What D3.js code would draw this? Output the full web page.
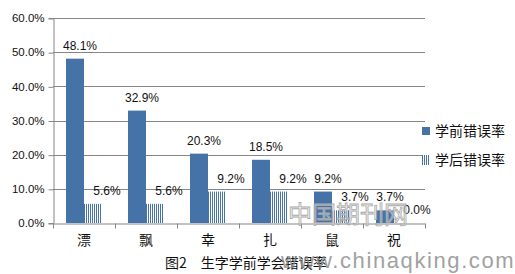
<!DOCTYPE html>
<html>
<head>
<meta charset="utf-8">
<script src="https://cdn.jsdelivr.net/npm/d3@7"></script>
<style>
  body { margin: 0; background: #fff; }
  svg { display: block; }
</style>
</head>
<body>
<svg id="chart" width="515" height="274"></svg>
<script>
// data
var categories = ['漂', '飘', '幸', '扎', '鼠', '祝'];
var seriesNames = ['学前错误率', '学后错误率'];
var before = [48.1, 32.9, 20.3, 18.5, 9.2, 3.7];
var after = [5.6, 5.6, 9.2, 9.2, 3.7, 0.0];
var yTicks = [0, 10, 20, 30, 40, 50, 60];
var title = '图2\u3000生字学前学会错误率';

var blue = '#4572a7',
  grid = '#868686',
  txt = '#111',
  latin = 'Liberation Sans, Arial, sans-serif',
  cjk = '"Noto Sans CJK SC", sans-serif';

var svg = d3.select('#chart');

// vertical stripe fill for the second series
var defs = svg.append('defs');
var pat = defs.append('pattern')
  .attr('id', 'stripes')
  .attr('patternUnits', 'userSpaceOnUse')
  .attr('width', 2).attr('height', 4);
pat.append('rect').attr('width', 2).attr('height', 4).attr('fill', '#fff');
pat.append('rect').attr('width', 1).attr('height', 4).attr('fill', blue);

var mLeft = 53, mRight = 425, mTop = 18, mBottom = 223;

var x0 = d3.scaleBand().domain(categories).range([mLeft, mRight]);
var x1 = d3.scaleBand().domain(seriesNames).range([0, 36]);
var y = d3.scaleLinear().domain([0, 60]).range([mBottom, mTop]);

// gridlines
svg.append('g')
  .selectAll('line')
  .data(yTicks.filter(function (d) { return d > 0; }))
  .enter().append('line')
  .attr('x1', mLeft).attr('x2', mRight)
  .attr('y1', function (d) { return Math.round(y(d)) + 0.5; })
  .attr('y2', function (d) { return Math.round(y(d)) + 0.5; })
  .attr('stroke', grid);

// y axis
var yAxis = d3.axisLeft(y)
  .tickValues(yTicks)
  .tickSize(5)
  .tickPadding(4)
  .tickFormat(function (d) { return d.toFixed(1) + '%'; });

var gy = svg.append('g')
  .attr('transform', 'translate(' + (mLeft + 0.5) + ',0)')
  .call(yAxis);
gy.select('.domain').attr('stroke', grid);
gy.selectAll('.tick line').attr('stroke', grid)
  .attr('transform', 'translate(0,0.5)');
gy.selectAll('text')
  .attr('font-family', latin)
  .attr('font-size', 11.5)
  .attr('fill', txt);

// bars
var groups = svg.append('g')
  .selectAll('g')
  .data(categories)
  .enter().append('g')
  .attr('transform', function (d) {
    return 'translate(' + Math.round(x0(d) + (x0.bandwidth() - 36) / 2) + ',0)';
  });

var values = [before, after];
var fills = [blue, 'url(#stripes)'];
var labelShift = [5, 14];

seriesNames.forEach(function (s, si) {
  groups.append('rect')
    .attr('x', function (d) { return Math.round(x1(s)); })
    .attr('width', x1.bandwidth())
    .attr('y', function (d, i) { return y(values[si][i]); })
    .attr('height', function (d, i) { return mBottom - y(values[si][i]); })
    .attr('fill', fills[si]);

  groups.append('text')
    .attr('x', function (d) { return x1(s) + x1.bandwidth() / 2 + labelShift[si]; })
    .attr('y', function (d, i) { return y(values[si][i]) - 9; })
    .attr('text-anchor', 'middle')
    .attr('font-family', latin)
    .attr('font-size', 12)
    .attr('fill', txt)
    .text(function (d, i) { return values[si][i].toFixed(1) + '%'; });
});

// x axis
var xAxis = d3.axisBottom(x0).tickSize(0).tickPadding(12);
var gx = svg.append('g')
  .attr('transform', 'translate(0,' + (mBottom + 0.5) + ')')
  .call(xAxis);
gx.select('.domain').attr('stroke', grid);
gx.selectAll('text')
  .attr('font-family', cjk)
  .attr('font-size', 14)
  .attr('fill', txt);
// category boundary ticks
gx.selectAll('.bound')
  .data(categories.concat(['end']))
  .enter().append('line')
  .attr('class', 'bound')
  .attr('x1', function (d, i) { return mLeft + i * x0.bandwidth() + 0.5; })
  .attr('x2', function (d, i) { return mLeft + i * x0.bandwidth() + 0.5; })
  .attr('y1', 0).attr('y2', 5)
  .attr('stroke', grid);

// legend
var legend = svg.append('g')
  .selectAll('g')
  .data(seriesNames)
  .enter().append('g')
  .attr('transform', function (d, i) { return 'translate(422,' + (127 + i * 29) + ')'; });
legend.append('rect')
  .attr('width', 8).attr('height', function (d, i) { return i ? 10 : 8; })
  .attr('y', function (d, i) { return i ? -1 : 0; })
  .attr('fill', function (d, i) { return fills[i]; });
legend.append('text')
  .attr('x', 13).attr('y', 4)
  .attr('dy', '0.35em')
  .attr('font-family', cjk)
  .attr('font-size', 14)
  .attr('fill', txt)
  .text(function (d) { return d; });

// caption
svg.append('text')
  .attr('x', 165).attr('y', 268)
  .attr('font-family', cjk)
  .attr('font-size', 14)
  .attr('fill', txt)
  .text(title);

// watermark of the source site
svg.append('text')
  .attr('x', 288).attr('y', 223)
  .attr('font-family', cjk)
  .attr('font-size', 24)
  .attr('fill', '#f2f2f2')
  .attr('fill-opacity', 0.5)
  .attr('stroke', '#a8a8a8')
  .attr('stroke-width', 0.8)
  .text('中国期刊网');
svg.append('text')
  .attr('x', 281).attr('y', 268)
  .attr('font-family', latin)
  .attr('font-size', 22)
  .attr('letter-spacing', 1.6)
  .attr('fill', '#8a8a8a')
  .attr('opacity', 0.8)
  .text('www.chinaqking.com');
</script>
</body>
</html>
